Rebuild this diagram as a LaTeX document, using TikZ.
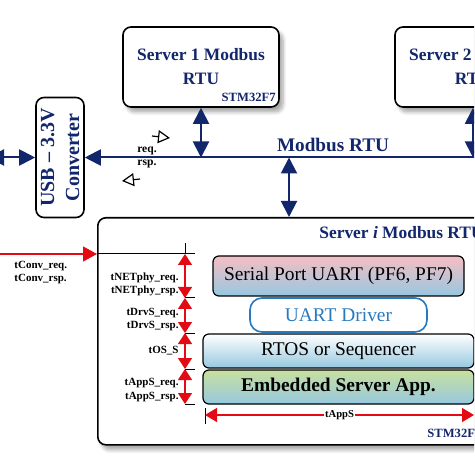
\documentclass[tikz,border=0pt]{standalone}
\usepackage{fontspec}
\setmainfont{Liberation Serif}
\usetikzlibrary{arrows.meta,shadows.blur,positioning}
\definecolor{navyb}{RGB}{18,38,108}
\definecolor{tred}{RGB}{228,10,20}
\definecolor{drvblue}{RGB}{40,122,190}
\definecolor{pinkt}{RGB}{246,190,196}
\definecolor{bluet}{RGB}{150,200,224}
\definecolor{greent}{RGB}{200,224,158}
\tikzset{
	srvbox/.style={draw, line width=.8pt, rounded corners=4pt, fill=white,
		blur shadow={shadow xshift=2pt, shadow yshift=-2.5pt, shadow blur steps=8, shadow opacity=35}},
	srvtext/.style={text=navyb, font=\bfseries\fontsize{8.7}{12}\selectfont, align=center},
	chip/.style={text=navyb, font=\bfseries\fontsize{6.3}{7}\selectfont, inner sep=0pt},
	bus/.style={navyb, line width=1pt},
	busarrow/.style={navyb, line width=1pt, {Triangle[length=8pt,width=8pt]}-{Triangle[length=8pt,width=8pt]}},
	tarrow/.style={tred, line width=.6pt},
	dimarrow/.style={tred, line width=.6pt, {Triangle[length=5.5pt,width=7pt]}-{Triangle[length=5.5pt,width=7pt]}},
	tlabel/.style={font=\bfseries\fontsize{5.5}{6.6}\selectfont, inner sep=0pt},
	layer/.style={draw, line width=.6pt, rounded corners=3pt, font=\fontsize{9.7}{11}\selectfont,
		inner sep=0pt, minimum height=17pt},
}
\begin{document}
\begin{tikzpicture}[x=5pt, y=-5pt]
	\useasboundingbox (0,0) rectangle (47.4,47.4);
	\clip (0,0) rectangle (47.4,47.4);

	% servers on the bus
	\node[srvbox, srvtext, minimum width=78pt, minimum height=40pt] (srv1) at (20.1,6.7) {Server 1 Modbus\\RTU};
		\node[chip, anchor=east] (chip1) at (27.6,9.7) {STM32F7};
	\node[srvbox, srvtext, minimum width=78pt, minimum height=40pt] (srv2) at (47.3,6.7) {Server 2 Modbus\\RTU};

	% converter
	\node[draw, line width=.8pt, rounded corners=4pt, rotate=90, minimum width=60pt, minimum height=24pt,
		align=center, text=navyb, font=\bfseries\fontsize{10}{12.5}\selectfont, inner sep=0pt]
		(conv) at (6,15.75) {USB -- 3.3V\\Converter};

	% server i
	\node[srvbox, anchor=north west, minimum width=212pt, minimum height=113.5pt] (srvi) at (9.7,21.7) {};
		\node[srvtext, anchor=west, inner sep=0pt] (srvititle) at (31.9,23.3) {Server \textit{i} Modbus RTU};
		\node[chip, anchor=west] (chipi) at (42.7,43.3) {STM32F7};

	% bus
	\coordinate (busR) at (48,15.75);
	\coordinate (usbL) at (-1.2,15.75);
	\coordinate (busi) at (28.9,15.75);
	\draw[bus, -{Triangle[length=8pt,width=8pt]}] (busR) -- (conv.south);
	\draw[busarrow] (usbL) -- (conv.north);
	\node[text=navyb, font=\bfseries\fontsize{9.6}{11}\selectfont, anchor=south, inner sep=1pt] (buslabel) at (33.3,15.4) {Modbus RTU};

	\draw[busarrow] (srv1.south) -- (srv1.south |- busR);
	\draw[busarrow] (srv2.south) -- (srv2.south |- busR);
	\draw[busarrow] (busi) -- (busi |- srvi.north);

	% req. / rsp.
	\node[tlabel, font=\bfseries\fontsize{5.8}{7}\selectfont] (req) at (14.7,15.1) {req.};
	\node[tlabel, font=\bfseries\fontsize{5.8}{7}\selectfont] (rsp) at (14.7,16.4) {rsp.};
	\coordinate (reqA) at (15.2,13.6);
	\coordinate (reqB) at (17.0,13.8);
	\coordinate (rspA) at (14.0,17.9);
	\coordinate (rspB) at (12.2,18.1);
	\draw[line width=.6pt, -{Triangle[open,length=6pt,width=6.5pt]}] (reqA) -- (reqB);
	\draw[line width=.6pt, -{Triangle[open,length=6pt,width=6.5pt]}] (rspA) -- (rspB);

	% timing
	\coordinate (convL) at (-0.5,25.4);
	\draw[tarrow, -{Triangle[length=7pt,width=7.5pt]}] (convL) -- (convL -| srvi.west);
	\node[tlabel, align=left, anchor=west] (tconv) at (1.4,27.25) {tConv\_req.\\tConv\_rsp.};

	\draw[line width=.5pt] (convL -| srvi.west) -- (19.5,25.4);
	\draw[line width=.5pt] (18.5,24.3) -- (18.5,25.4);
	\foreach \y in {29.8,33.3,36.9,40.4}
		\draw[line width=.5pt] (18.5,\y) -- (19.5,\y);
	\draw[dimarrow] (18.5,25.4) -- (18.5,29.8);
	\draw[dimarrow] (18.5,29.8) -- (18.5,33.3);
	\draw[dimarrow] (18.5,33.3) -- (18.5,36.9);
	\draw[dimarrow] (18.5,36.9) -- (18.5,40.4);

	\node[tlabel, align=right, anchor=east] (tnet) at (17.9,28.45) {tNETphy\_req.\\tNETphy\_rsp.};
	\node[tlabel, align=right, anchor=east] (tdrv) at (17.9,31.95) {tDrvS\_req.\\tDrvS\_rsp.};
	\node[tlabel, align=right, anchor=east] (tos) at (17.9,35.1) {tOS\_S};
	\node[tlabel, align=right, anchor=east] (tapp) at (17.9,39.0) {tAppS\_req.\\tAppS\_rsp.};

	% software layers
	\node[layer, minimum width=125.5pt, minimum height=20pt, top color=pinkt, middle color=pinkt!60!white, bottom color=bluet]
		(uart) at (33.85,27.6) {Serial Port UART (PF6, PF7)};
	\node[layer, draw=drvblue, text=drvblue, fill=white, line width=.8pt, minimum width=88.5pt, rounded corners=6pt]
		(drv) at (33.85,31.5) {UART Driver};
	\node[layer, minimum width=135.5pt, top color=white, middle color=white, bottom color=bluet]
		(rtos) at (33.85,35.1) {RTOS or Sequencer};
	\node[layer, minimum width=135.5pt, top color=greent, bottom color=bluet, font=\bfseries\fontsize{9.7}{11}\selectfont]
		(app) at (33.85,38.7) {Embedded Server App.};

	% tAppS
	\draw[line width=.5pt] (20.5,40.8) -- (20.5,42.4);
	\draw[tarrow, {Triangle[length=6pt,width=7pt]}-{Triangle[length=6pt,width=7pt]}] (20.5,41.5) -- (47.4,41.5)
		node[midway, tlabel, text=black, fill=white, inner sep=.5pt, font=\bfseries\fontsize{5.3}{6}\selectfont] (tapps) {tAppS};
\end{tikzpicture}
\end{document}
